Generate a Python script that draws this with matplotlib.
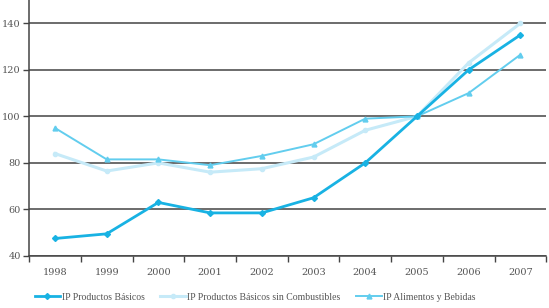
import numpy as np
import matplotlib
matplotlib.use('Agg')
import matplotlib.pyplot as plt

years = ['1998', '1999', '2000', '2001', '2002', '2003', '2004', '2005', '2006', '2007']
basicos = [47.5, 49.5, 63, 58.5, 58.5, 65, 80, 100, 120, 135]
sin_comb = [84, 76.5, 80, 76, 77.5, 82.5, 94, 100, 123, 140]
alimentos = [95, 81.5, 81.5, 79, 83, 88, 99, 100, 110, 126.5]

plt.rcParams['font.family'] = ['DejaVu Serif']

fig = plt.figure(figsize=(5.49, 3.08), dpi=100)
ax = fig.add_axes([0.053, 0.169, 0.942, 0.831])

x = np.arange(len(years))
ax.plot(x, sin_comb, color='#c6eaf8', lw=2.2, marker='o', ms=3, label='IP Productos Básicos sin Combustibles', zorder=3)
ax.plot(x, alimentos, color='#62cdee', lw=1.4, marker='^', ms=3.5, label='IP Alimentos y Bebidas', zorder=4)
ax.plot(x, basicos, color='#18b2e3', lw=2.0, marker='D', ms=3, label='IP Productos Básicos', zorder=5)

ax.set_xlim(-0.5, len(years) - 0.5)
ax.set_ylim(40, 150)
ax.set_yticks([40, 60, 80, 100, 120, 140])
ax.set_xticks(x)
ax.set_xticklabels(years)
ax.set_xticks(np.arange(-0.5, len(years) - 0.4, 1), minor=True)
ax.tick_params(axis='x', which='major', length=0, pad=9, labelsize=7, colors='#555555')
ax.tick_params(axis='x', which='minor', length=4, width=1, color='#444444')
ax.tick_params(axis='y', length=4, width=1, pad=2, color='#444444', labelsize=7, labelcolor='#555555')
ax.yaxis.grid(True, color='#444444', lw=1.1)
ax.set_axisbelow(True)
for s in ['top', 'right']:
    ax.spines[s].set_visible(False)
ax.spines['left'].set_color('#444444')
ax.spines['left'].set_linewidth(1.1)
ax.spines['bottom'].set_color('#444444')
ax.spines['bottom'].set_linewidth(1.1)

h, l = ax.get_legend_handles_labels()
order = [2, 0, 1]
leg = fig.legend([h[i] for i in order], [l[i] for i in order], loc='center', bbox_to_anchor=(0.465, 0.035),
                 ncol=3, frameon=False, prop={'family': 'Liberation Serif', 'size': 7},
                 handlelength=2.6, columnspacing=1.6, handletextpad=0.2)
for t in leg.get_texts():
    t.set_color('#555555')

fig.savefig('out.png', dpi=100)
